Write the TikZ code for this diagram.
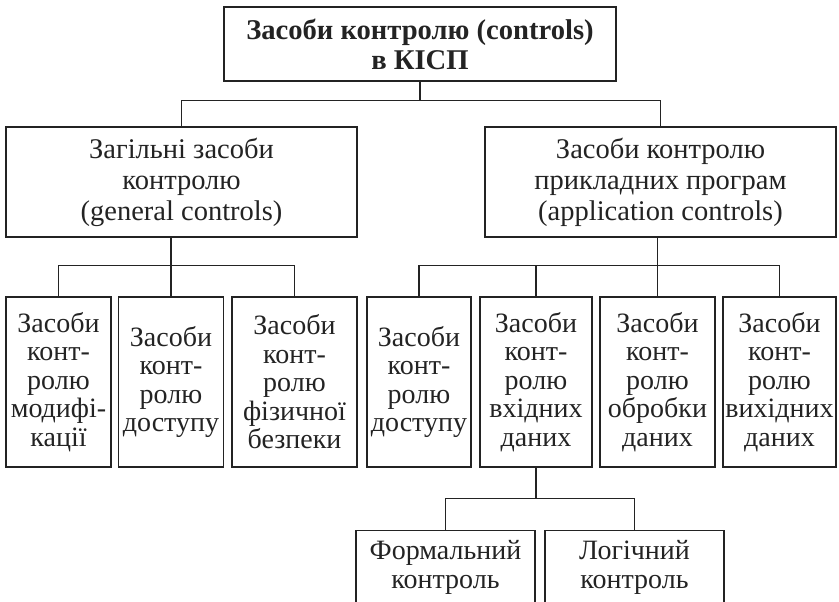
\documentclass[tikz,border=0pt]{standalone}
\usepackage{fontspec}
\setmainfont{Liberation Serif}
\usetikzlibrary{calc}
\definecolor{ink}{RGB}{35,35,35}
\tikzset{
  box/.style={draw=ink, line width=1.1pt, rectangle, inner sep=0pt, align=center,
    text=ink, font=\fontsize{28}{28.5}\selectfont},
  wire/.style={draw=ink, line width=1.1pt},
}
\begin{document}
\begin{tikzpicture}[x=1pt, y=1pt]
\useasboundingbox (0,0) rectangle (839,-602);

% root
\node[box, minimum width=392, minimum height=74, font=\bfseries\fontsize{28.6}{30}\selectfont]
  (root) at (420,-44) {Засоби контролю (controls)\\в КІСП};

% second level
\node[box, minimum width=351, minimum height=110, font=\fontsize{28.5}{31}\selectfont]
  (gen) at (181.5,-182) {Загільні засоби\\контролю\\(general controls)};
\node[box, minimum width=351, minimum height=110, font=\fontsize{28.5}{31}\selectfont]
  (app) at (660.5,-182) {Засоби контролю\\прикладних програм\\(application controls)};

% third level
\node[box, minimum width=105, minimum height=170] (g1) at (58.5,-382)
  {Засоби\\конт-\\ролю\\модифі-\\кації};
\node[box, minimum width=105, minimum height=170] (g2) at (171,-382)
  {Засоби\\конт-\\ролю\\доступу};
\node[box, minimum width=125, minimum height=170] (g3) at (294.5,-382)
  {Засоби\\конт-\\ролю\\фізичної\\безпеки};
\node[box, minimum width=104, minimum height=170] (a1) at (419,-382)
  {Засоби\\конт-\\ролю\\доступу};
\node[box, minimum width=112, minimum height=170] (a2) at (536,-382)
  {Засоби\\конт-\\ролю\\вхідних\\даних};
\node[box, minimum width=115, minimum height=170] (a3) at (657.5,-382)
  {Засоби\\конт-\\ролю\\обробки\\даних};
\node[box, minimum width=113, minimum height=170] (a4) at (779.5,-382)
  {Засоби\\конт-\\ролю\\вихідних\\даних};

% fourth level
\node[box, minimum width=179, minimum height=74] (f1) at (445.5,-567.5)
  {Формальний\\контроль};
\node[box, minimum width=179, minimum height=74] (f2) at (634.5,-567.5)
  {Логічний\\контроль};

% connectors: root to second level
\draw[wire] (root.south) -- ++(0,-19) coordinate (rb) -| (gen.north);
\draw[wire] (rb) -| (app.north);

% general controls to its three boxes
\coordinate (gb) at ($(g2.north)+(0,31)$);
\draw[wire] (gen.south -| g2.north) -- (g2.north);
\draw[wire] (g1.north) |- (gb) -| (g3.north);

% application controls to its four boxes
\coordinate (ab) at ($(a3.north)+(0,31)$);
\draw[wire] (app.south -| a3.north) -- (a3.north);
\draw[wire] (a1.north) |- (ab) -| (a4.north);
\draw[wire] (a2.north) -- (a2.north |- ab);

% input data controls to formal and logical checks
\draw[wire] (a2.south) -- ++(0,-31) coordinate (db) -| (f1.north);
\draw[wire] (db) -| (f2.north);
\end{tikzpicture}
\end{document}
